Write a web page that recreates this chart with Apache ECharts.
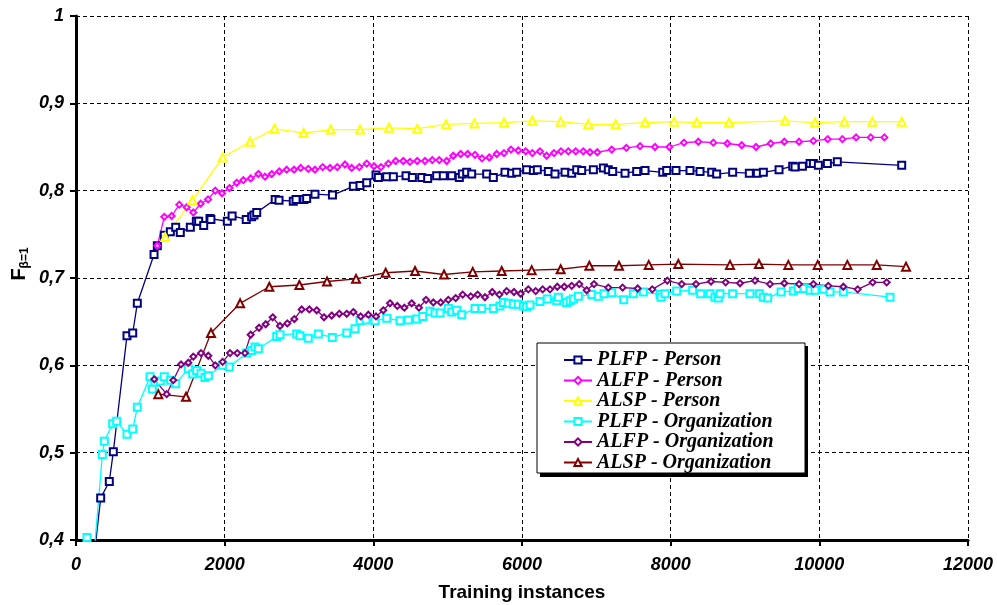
<!DOCTYPE html>
<html><head><meta charset="utf-8">
<script src="https://cdn.jsdelivr.net/npm/echarts@6/dist/echarts.min.js"></script>
<style>html,body{margin:0;padding:0;background:#fff}#c{width:997px;height:605px}</style>
</head><body><div id="c"></div>
<script>
// ---- data (x = training instances, y = F(beta=1)) ----
const seriesNames = ['PLFP - Person','ALFP - Person','ALSP - Person','PLFP - Organization','ALFP - Organization','ALSP - Organization'];
const xAxisRange = [0, 12000, 2000];
const yAxisRange = [0.4, 1, 0.1];

const plfpPerson = [[150,0.31],[332,0.448],[448,0.467],[502,0.501],[686,0.634],[763,0.637],[825,0.671],[1050,0.727],[1094,0.737],[1188,0.749],[1269,0.753],[1341,0.758],[1403,0.752],[1538,0.758],[1619,0.765],[1650,0.765],[1718,0.760],[1803,0.768],[1815,0.767],[2036,0.765],[2100,0.771],[2290,0.767],[2363,0.770],[2395,0.772],[2431,0.775],[2680,0.790],[2731,0.789],[2923,0.788],[2960,0.790],[3067,0.790],[3103,0.791],[3215,0.796],[3450,0.795],[3731,0.805],[3821,0.806],[3911,0.809],[4036,0.818],[4067,0.815],[4180,0.816],[4269,0.816],[4440,0.817],[4525,0.815],[4651,0.815],[4731,0.814],[4852,0.817],[4941,0.817],[5054,0.817],[5157,0.815],[5197,0.819],[5256,0.821],[5323,0.819],[5525,0.819],[5614,0.815],[5771,0.821],[5861,0.820],[5929,0.821],[6063,0.824],[6153,0.823],[6206,0.824],[6354,0.822],[6444,0.819],[6579,0.821],[6669,0.820],[6736,0.824],[6803,0.823],[6960,0.824],[7095,0.826],[7161,0.824],[7220,0.822],[7386,0.820],[7543,0.822],[7655,0.823],[7893,0.821],[7947,0.823],[8072,0.823],[8260,0.823],[8395,0.822],[8552,0.821],[8619,0.819],[8834,0.821],[9058,0.820],[9166,0.820],[9247,0.821],[9458,0.824],[9642,0.828],[9673,0.827],[9772,0.828],[9875,0.831],[9920,0.831],[9987,0.829],[10108,0.831],[10242,0.833],[11108,0.829]];

const alfpPerson = [[1094,0.737],[1188,0.770],[1287,0.771],[1390,0.784],[1489,0.781],[1578,0.775],[1677,0.785],[1776,0.790],[1874,0.800],[1964,0.797],[2065,0.803],[2162,0.809],[2251,0.812],[2350,0.814],[2453,0.819],[2543,0.816],[2633,0.819],[2735,0.822],[2834,0.824],[2933,0.824],[3023,0.826],[3125,0.825],[3215,0.824],[3319,0.827],[3417,0.826],[3515,0.827],[3619,0.830],[3709,0.826],[3812,0.827],[3911,0.831],[4009,0.828],[4103,0.827],[4202,0.831],[4301,0.834],[4403,0.834],[4493,0.833],[4591,0.834],[4695,0.834],[4793,0.835],[4887,0.835],[4987,0.834],[5076,0.840],[5175,0.842],[5269,0.842],[5368,0.841],[5462,0.837],[5560,0.838],[5660,0.842],[5758,0.843],[5852,0.847],[5950,0.846],[6050,0.845],[6139,0.843],[6242,0.845],[6332,0.840],[6431,0.843],[6525,0.845],[6623,0.845],[6723,0.845],[6825,0.845],[6915,0.844],[7013,0.844],[7207,0.847],[7404,0.849],[7588,0.851],[7789,0.850],[7982,0.850],[8179,0.855],[8372,0.856],[8574,0.855],[8762,0.854],[8956,0.852],[9148,0.850],[9346,0.854],[9529,0.856],[9727,0.856],[9920,0.857],[10113,0.859],[10310,0.859],[10494,0.861],[10691,0.861],[10875,0.861]];

const alspPerson = [[1200,0.747],[1565,0.789],[1973,0.838],[2341,0.856],[2670,0.871],[3062,0.866],[3426,0.870],[3821,0.870],[4211,0.872],[4591,0.871],[4978,0.876],[5359,0.877],[5758,0.878],[6139,0.880],[6520,0.879],[6892,0.876],[7260,0.876],[7655,0.878],[8045,0.879],[8350,0.878],[8785,0.878],[9538,0.880],[9942,0.878],[10336,0.879],[10713,0.879],[11108,0.879]];

const plfpOrg = [[148,0.403],[220,0.36],[354,0.498],[381,0.513],[493,0.533],[547,0.536],[686,0.521],[763,0.527],[825,0.552],[996,0.587],[1027,0.573],[1063,0.581],[1134,0.582],[1188,0.587],[1274,0.583],[1341,0.579],[1511,0.596],[1570,0.590],[1623,0.594],[1682,0.591],[1735,0.586],[1780,0.588],[1973,0.600],[2063,0.598],[2296,0.614],[2363,0.617],[2408,0.621],[2453,0.619],[2700,0.633],[2744,0.635],[2969,0.636],[3013,0.634],[3125,0.631],[3260,0.636],[3448,0.632],[3642,0.637],[3753,0.642],[3821,0.651],[3902,0.652],[4022,0.651],[4180,0.654],[4359,0.651],[4471,0.652],[4583,0.653],[4664,0.656],[4762,0.662],[4830,0.660],[4897,0.660],[5009,0.665],[5054,0.661],[5121,0.663],[5189,0.658],[5368,0.665],[5458,0.665],[5614,0.665],[5704,0.668],[5749,0.672],[5816,0.671],[5883,0.670],[5950,0.670],[6018,0.668],[6063,0.667],[6108,0.669],[6242,0.673],[6340,0.676],[6467,0.674],[6489,0.678],[6601,0.672],[6646,0.674],[6691,0.676],[6758,0.679],[6937,0.681],[7027,0.679],[7103,0.682],[7207,0.683],[7368,0.675],[7498,0.682],[7633,0.684],[7857,0.681],[7870,0.678],[7924,0.682],[8081,0.685],[8296,0.686],[8404,0.682],[8529,0.682],[8596,0.678],[8641,0.677],[8664,0.682],[8834,0.682],[9067,0.682],[9193,0.682],[9246,0.678],[9305,0.677],[9485,0.684],[9650,0.685],[9717,0.688],[9794,0.688],[9875,0.686],[9942,0.686],[10054,0.687],[10144,0.684],[10323,0.684],[10951,0.678]];

const alfpOrg = [[1053,0.584],[1220,0.567],[1309,0.583],[1413,0.601],[1511,0.603],[1578,0.610],[1682,0.614],[1780,0.611],[1874,0.600],[1973,0.604],[2072,0.614],[2170,0.614],[2273,0.614],[2350,0.635],[2462,0.643],[2552,0.647],[2646,0.655],[2744,0.645],[2843,0.648],[2937,0.653],[3036,0.664],[3139,0.664],[3238,0.663],[3336,0.655],[3440,0.657],[3542,0.659],[3642,0.659],[3731,0.661],[3830,0.656],[3933,0.658],[4036,0.656],[4134,0.663],[4224,0.671],[4323,0.668],[4417,0.666],[4516,0.671],[4614,0.666],[4709,0.675],[4807,0.672],[4906,0.672],[5009,0.675],[5108,0.677],[5202,0.681],[5310,0.679],[5404,0.681],[5502,0.678],[5600,0.684],[5695,0.681],[5794,0.685],[5892,0.684],[5982,0.682],[6085,0.687],[6184,0.685],[6278,0.687],[6377,0.687],[6475,0.690],[6569,0.690],[6669,0.691],[6771,0.693],[6870,0.686],[6969,0.693],[7161,0.689],[7354,0.689],[7556,0.688],[7753,0.687],[7955,0.697],[8149,0.693],[8341,0.693],[8543,0.696],[8740,0.695],[8933,0.694],[9135,0.697],[9336,0.693],[9529,0.694],[9727,0.693],[9920,0.693],[10121,0.691],[10323,0.690],[10516,0.687],[10718,0.695],[10906,0.695]];

const alspOrg = [[1107,0.567],[1480,0.564],[1816,0.637],[2208,0.671],[2601,0.690],[3005,0.692],[3377,0.696],[3767,0.699],[4166,0.706],[4561,0.708],[4951,0.704],[5337,0.707],[5727,0.708],[6130,0.709],[6520,0.710],[6906,0.714],[7305,0.714],[7705,0.715],[8103,0.716],[8798,0.715],[9188,0.716],[9583,0.715],[9978,0.715],[10377,0.715],[10772,0.715],[11166,0.713]];

// ---- chart ----
const seriesData = [plfpPerson, alfpPerson, alspPerson, plfpOrg, alfpOrg, alspOrg];
const colors = ['#000080','#FF00FF','#FFFF00','#00FFFF','#800080','#800000'];
const symbols = ['emptyRect','emptyDiamond','emptyTriangle','emptyRect','emptyDiamond','emptyTriangle'];
const symbolSizes = [7,6,8,7,6,8];

const chart = echarts.init(document.getElementById('c'), null, {renderer:'canvas'});
const sansBI = {fontFamily:'"Liberation Sans", Arial, sans-serif', fontWeight:'bold', fontStyle:'italic', color:'#000'};

const option = {
  animation: false,
  backgroundColor: '#fff',
  grid: {left: 76, right: 29, top: 16, bottom: 65, containLabel: false, outerBoundsMode: 'none'},
  xAxis: {
    type: 'value', min: xAxisRange[0], max: xAxisRange[1], interval: xAxisRange[2],
    axisLine: {show: true, onZero: false, lineStyle: {color:'#000', width: 3}},
    axisTick: {show: true, length: 6, lineStyle: {color:'#000', width: 2}},
    axisLabel: Object.assign({fontSize: 18, margin: 16, formatter: v => String(v)}, sansBI),
    splitLine: {show: true, lineStyle: {color:'#000', width: 1, type: [4,3]}},
    name: 'Training instances', nameLocation: 'middle', nameGap: 43,
    nameTextStyle: {fontFamily:'"Liberation Sans", Arial, sans-serif', fontWeight:'bold', fontSize: 19, color:'#000'}
  },
  yAxis: {
    type: 'value', min: yAxisRange[0], max: yAxisRange[1], interval: yAxisRange[2],
    axisLine: {show: true, onZero: false, lineStyle: {color:'#000', width: 3}},
    axisTick: {show: true, length: 6, lineStyle: {color:'#000', width: 2}},
    axisLabel: Object.assign({fontSize: 18, margin: 12,
      formatter: v => (Math.abs(v-1) < 1e-9 ? '1' : v.toFixed(1).replace('.', ','))}, sansBI),
    splitLine: {show: true, lineStyle: {color:'#000', width: 1, type: [4,3]}}
  },
  legend: {
    data: seriesNames,
    orient: 'vertical', left: 563, top: 350, padding: 0,
    itemWidth: 28, itemHeight: 9, itemGap: 0.5,
    z: 10,
    textStyle: {fontFamily:'"Liberation Serif", "Times New Roman", serif', fontWeight:'bold', fontStyle:'italic', fontSize: 20, lineHeight: 20, color:'#000'}
  },
  graphic: [
    {type:'rect', z: 5, shape:{x:540, y:346, width:268, height:131}, style:{fill:'#000'}},
    {type:'rect', z: 6, shape:{x:537, y:343, width:268, height:130}, style:{fill:'#fff', stroke:'#000', lineWidth:1}},
    {type:'text', z: 7, x: 19, y: 264, rotation: Math.PI/2,
     style:{text:'{f|F}{s|β=1}', align:'center', verticalAlign:'middle',
       rich:{
         f:{fontFamily:'"Liberation Sans", Arial, sans-serif', fontWeight:'bold', fontSize:20, lineHeight:24, fill:'#000'},
         s:{fontFamily:'"Liberation Sans", Arial, sans-serif', fontWeight:'bold', fontSize:12, lineHeight:10, verticalAlign:'bottom', fill:'#000'}
       }}}
  ],
  series: seriesData.map((d, i) => ({
    name: seriesNames[i], type: 'line', data: d,
    clip: true,
    symbol: symbols[i], symbolSize: symbolSizes[i], showAllSymbol: true,
    lineStyle: {color: colors[i], width: 1.3},
    itemStyle: {color: colors[i], borderColor: colors[i], borderWidth: 1.2},
    emphasis: {disabled: true}
  }))
};
chart.setOption(option);
</script></body></html>
